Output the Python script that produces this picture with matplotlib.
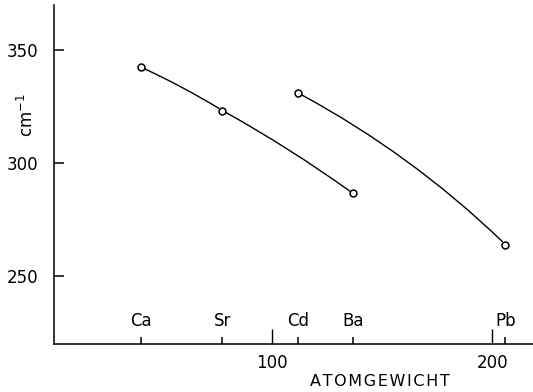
import matplotlib
matplotlib.use("Agg")
import matplotlib.pyplot as plt
import matplotlib.transforms as mtransforms
from matplotlib.markers import TICKUP

# data
elements_a = ["Ca", "Sr", "Ba"]
weights_a = [40.3, 77.5, 136.8]
freq_a = [342.6, 323.3, 286.6]

elements_b = ["Cd", "Pb"]
weights_b = [111.8, 206.0]
freq_b = [331.1, 264.0]

major_ticks = [100, 200]
major_labels = ["100", "200"]
y_ticks = [250, 300, 350]

W, H = 533, 392
fig = plt.figure(figsize=(W / 100, H / 100), dpi=100)
ax = fig.add_axes([54 / W, 48 / H, (W - 54) / W, (344 - 5) / H])
ax.set_xlim(1, 218.5)
ax.set_ylim(220, 370)

for s in ["top", "right"]:
    ax.spines[s].set_visible(False)
for s in ["left", "bottom"]:
    ax.spines[s].set_linewidth(1.1)

font = "DejaVu Sans"

def curve(xs, ys, rad):
    for i in range(len(xs) - 1):
        ax.annotate("", xy=(xs[i + 1], ys[i + 1]), xytext=(xs[i], ys[i]),
                    arrowprops=dict(arrowstyle="-", lw=1.0, color="black",
                                    shrinkA=3, shrinkB=3,
                                    connectionstyle=f"arc3,rad={rad}"))

curve(weights_a, freq_a, -0.03)
curve(weights_b, freq_b, -0.07)
ax.plot(weights_a, freq_a, "o", ms=5, mfc="white", mec="black", mew=1.1, ls="none", zorder=5)
ax.plot(weights_b, freq_b, "o", ms=5, mfc="white", mec="black", mew=1.1, ls="none", zorder=5)

ax.set_yticks(y_ticks)
ax.set_yticklabels([str(v) for v in y_ticks], fontsize=12, family=font)
ax.tick_params(axis="y", direction="in", length=7, width=1.1, pad=11.5)

all_w = weights_a + weights_b
all_e = elements_a + elements_b
ax.set_xticks(major_ticks)
ax.set_xticklabels(major_labels, fontsize=12, family=font)
ax.tick_params(axis="x", which="major", direction="in", length=11, width=1.0, pad=7)

trans = mtransforms.blended_transform_factory(ax.transData, ax.transAxes)
# small element ticks on the x axis
ax.plot(all_w, [0] * len(all_w), ls="none", marker=TICKUP, ms=5, mew=1.1,
        color="black", transform=trans, clip_on=False, zorder=6)
for w, e in zip(all_w, all_e):
    ax.text(w, 0.04, e, transform=trans, ha="center", va="bottom",
            fontsize=12, family=font)

ax.text(-0.056, 0.675, "cm$^{-1}$", transform=ax.transAxes, rotation=90,
        ha="center", va="center", fontsize=12, family=font)

fig.text(380 / W, 1 - 382 / H, "\u200a".join("ATOMGEWICHT"),
         ha="center", va="center", fontsize=11.5, family=font)

fig.savefig("out.png", dpi=100)
